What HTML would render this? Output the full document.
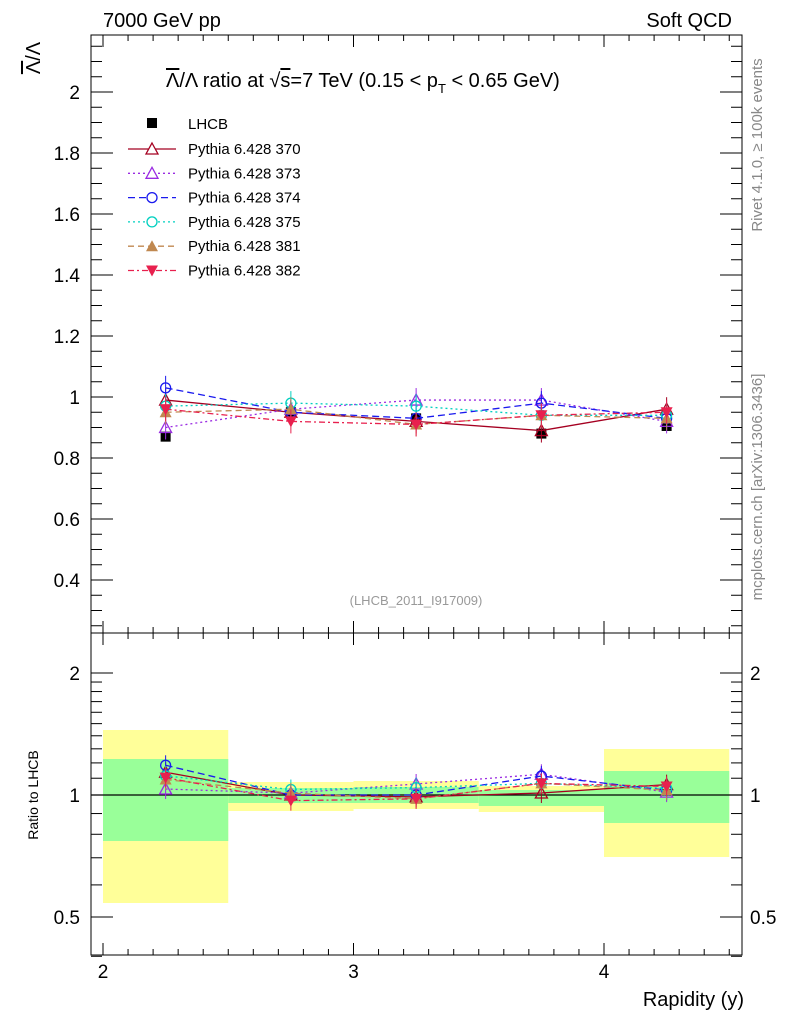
<!DOCTYPE html><html><head><style>body{margin:0;background:#fff}svg{font-family:"Liberation Sans",sans-serif}</style></head><body>
<svg id="s" width="786" height="1024" xmlns="http://www.w3.org/2000/svg">
<rect width="786" height="1024" fill="#fff"/>
<g id="bands"></g>
<g id="frame" fill="none" stroke="#000" stroke-width="1"><rect x="91" y="35" width="651" height="598"/><rect x="91" y="633" width="651" height="322"/></g>
<line x1="91" y1="795" x2="742" y2="795" stroke="#000" stroke-width="1.3"/>
<g id="ticks" stroke="#000"></g>
<g id="data"></g>
<g font-size="20">
<text x="103" y="27">7000 GeV pp</text><text x="732" y="27" text-anchor="end">Soft QCD</text>
<text x="744" y="1006" text-anchor="end">Rapidity (y)</text>
<text x="166" y="87"><tspan style="text-decoration:overline">Λ</tspan>/Λ ratio at √<tspan style="text-decoration:overline">s</tspan>=7 TeV (0.15 &lt; p<tspan font-size="13" dy="6">T</tspan><tspan dy="-6"> &lt; 0.65 GeV)</tspan></text>
<text transform="translate(40,58) rotate(-90)" text-anchor="middle"><tspan style="text-decoration:overline">Λ</tspan>/Λ</text>
</g>
<text transform="translate(38,795) rotate(-90)" text-anchor="middle" font-size="14">Ratio to LHCB</text>
<text transform="translate(762,145) rotate(-90)" text-anchor="middle" font-size="15" fill="#888">Rivet 4.1.0, ≥ 100k events</text>
<text transform="translate(762,487) rotate(-90)" text-anchor="middle" font-size="15" fill="#888">mcplots.cern.ch [arXiv:1306.3436]</text>
<text x="416" y="605" text-anchor="middle" font-size="13" fill="#999">(LHCB_2011_I917009)</text>
<g id="legend" font-size="15"></g>
</svg>
<script>
const S=document.getElementById('s'),NS='http://www.w3.org/2000/svg';
function el(p,t,a,txt){const e=document.createElementNS(NS,t);for(const k in a)e.setAttribute(k,a[k]);if(txt)e.textContent=txt;document.getElementById(p).appendChild(e);return e}
const X=v=>103+(v-2)*250.5,Y=v=>397-(v-1)*305,R=r=>795-122*Math.log2(r);
[[2,2.5,730,903,759,841],[2.5,3,782,811,788,803],[3,3.5,781,809,787,803],[3.5,4,786,812,790,806],[4,4.5,749,857,771,823]].forEach(b=>{
el('bands','rect',{x:X(b[0]),y:b[2],width:X(b[1])-X(b[0]),height:b[3]-b[2],fill:'#ffff99'});
el('bands','rect',{x:X(b[0]),y:b[4],width:X(b[1])-X(b[0]),height:b[5]-b[4],fill:'#99ff99'});});
for(let v=2;v<=4.5;v+=0.1){const x=X(v);const L=Math.abs(v-Math.round(v))<1e-6?12:6;
[[35,1],[633,-1],[633,1],[955,-1]].forEach(([y,d])=>el('ticks','line',{x1:x,x2:x,y1:y,y2:y+d*L}));}
[2,3,4].forEach(v=>el('ticks','text',{x:X(v),y:978,'text-anchor':'middle','font-size':'19',stroke:'none'},v));
for(let v=0.25;v<=2.18;v+=0.05){const y=Y(v),maj=Math.abs(v*5-Math.round(v*5))<1e-6;const L=maj?22:11;el('ticks','line',{x1:91,x2:91+L,y1:y,y2:y});el('ticks','line',{x1:742,x2:742-L,y1:y,y2:y});
if(maj&&v>0.3)el('ticks','text',{x:80,y:y+7,'text-anchor':'end','font-size':'19',stroke:'none'},(Math.round(v*10)/10).toString());}
[0.4,0.5,0.6,0.7,0.8,0.9,1,1.1,1.2,1.3,1.4,1.5,1.6,1.7,1.8,1.9,2].forEach(r=>{const y=R(r);if(y<640)return;const maj=[0.5,1,2].includes(r);const L=maj?22:11;el('ticks','line',{x1:91,x2:91+L,y1:y,y2:y});el('ticks','line',{x1:742,x2:742-L,y1:y,y2:y});
if(maj){el('ticks','text',{x:80,y:y+7,'text-anchor':'end','font-size':'19',stroke:'none'},r);el('ticks','text',{x:750,y:y+7,'font-size':'19',stroke:'none'},r);}});
const xs=[2.25,2.75,3.25,3.75,4.25];const lh=[0.87,0.95,0.93,0.88,0.905];
const ser=[['Pythia 6.428 370','#a50021','','tri',[0.99,0.95,0.92,0.89,0.96]],
['Pythia 6.428 373','#9a2be2','2,3','tri',[0.90,0.96,0.99,0.99,0.92]],
['Pythia 6.428 374','#1a1aee','7,4','circ',[1.03,0.95,0.93,0.98,0.93]],
['Pythia 6.428 375','#00d0c0','2,3','circ',[0.97,0.98,0.97,0.94,0.94]],
['Pythia 6.428 381','#c08850','6,4','ftri',[0.95,0.96,0.91,0.94,0.93]],
['Pythia 6.428 382','#e8204e','6,3,2,3','dtri',[0.96,0.92,0.91,0.94,0.95]]];
function mk(x,y,t,c){if(t=='tri')el('data','path',{d:`M${x},${y-6}L${x+6},${y+5}L${x-6},${y+5}Z`,fill:'none',stroke:c,'stroke-width':1.3});
else if(t=='circ')el('data','circle',{cx:x,cy:y,r:5,fill:'none',stroke:c,'stroke-width':1.3});
else if(t=='ftri')el('data','path',{d:`M${x},${y-6}L${x+6},${y+5}L${x-6},${y+5}Z`,fill:c});
else if(t=='dtri')el('data','path',{d:`M${x},${y+6}L${x+6},${y-5}L${x-6},${y-5}Z`,fill:c});
else el('data','rect',{x:x-5,y:y-5,width:10,height:10,fill:c});}
xs.forEach((x,i)=>{mk(X(x),Y(lh[i]),'sq','#000')});
ser.forEach((s,k)=>{const [n,c,d,t,v]=s;
el('data','polyline',{points:xs.map((x,i)=>X(x)+','+Y(v[i])).join(' '),fill:'none',stroke:c,'stroke-width':1.3,'stroke-dasharray':d});
el('data','polyline',{points:xs.map((x,i)=>X(x)+','+R(v[i]/lh[i])).join(' '),fill:'none',stroke:c,'stroke-width':1.3,'stroke-dasharray':d});
xs.forEach((x,i)=>{el('data','line',{x1:X(x),x2:X(x),y1:Y(v[i])-12,y2:Y(v[i])+12,stroke:c});mk(X(x),Y(v[i]),t,c);
el('data','line',{x1:X(x),x2:X(x),y1:R(v[i]/lh[i])-10,y2:R(v[i]/lh[i])+10,stroke:c});mk(X(x),R(v[i]/lh[i]),t,c);});
const ly=149+k*24.3;el('legend','line',{x1:128,x2:176,y1:ly,y2:ly,stroke:c,'stroke-width':1.3,'stroke-dasharray':d});
if(t=='tri')el('legend','path',{d:`M152,${ly-6}L158,${ly+5}L146,${ly+5}Z`,fill:'#fff',stroke:c,'stroke-width':1.3});
else if(t=='circ')el('legend','circle',{cx:152,cy:ly,r:5,fill:'#fff',stroke:c,'stroke-width':1.3});
else if(t=='ftri')el('legend','path',{d:`M152,${ly-6}L158,${ly+5}L146,${ly+5}Z`,fill:c});
else el('legend','path',{d:`M152,${ly+6}L158,${ly-5}L146,${ly-5}Z`,fill:c});
el('legend','text',{x:188,y:ly+5},n);});
el('legend','rect',{x:147,y:118,width:10,height:10,fill:'#000'});el('legend','text',{x:188,y:129},'LHCB');
</script></body></html>
